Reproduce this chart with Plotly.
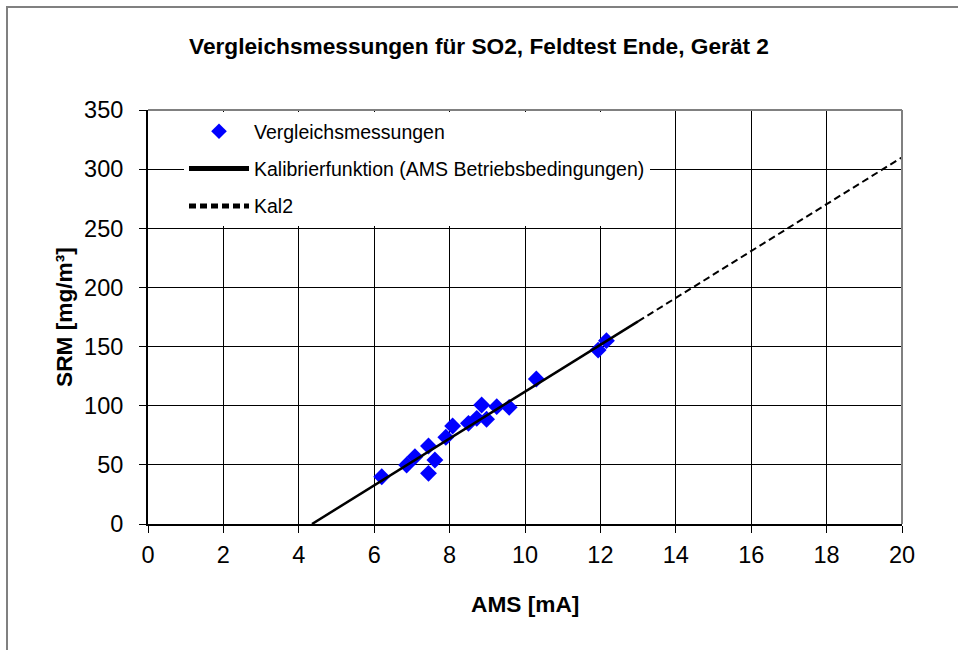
import plotly.graph_objects as go

# Data
ams_ma = [6.20, 6.86, 7.08, 7.44, 7.44, 7.61, 7.90, 8.08, 8.50, 8.72, 8.85, 8.98, 9.25, 9.58, 10.30, 11.94, 12.16]
srm_mg = [40.0, 49.9, 56.9, 65.9, 42.8, 54.1, 73.3, 82.8, 85.1, 89.3, 100.6, 88.5, 99.2, 98.6, 122.6, 147.0, 155.0]

kal_x = [4.35, 13.0]
kal_y = [0.0, 171.3]
kal2_x = [13.0, 20.0]
kal2_y = [171.3, 310.0]

x_ticks = [0, 2, 4, 6, 8, 10, 12, 14, 16, 18, 20]
y_ticks = [0, 50, 100, 150, 200, 250, 300, 350]

FONT = "Liberation Sans, Arial, sans-serif"
W, H = 958, 650
L, R, T, B = 148, 56, 110, 126
PW, PH = W - L - R, H - T - B

fig = go.Figure()
fig.add_trace(go.Scatter(
    x=ams_ma, y=srm_mg, mode="markers", name="Vergleichsmessungen",
    marker=dict(symbol="diamond", color="#0000FF", size=13, line=dict(width=0)),
    legendgroup="a",
))
fig.add_trace(go.Scatter(
    x=kal_x, y=kal_y, mode="lines", name="Kalibrierfunktion (AMS Betriebsbedingungen)",
    line=dict(color="black", width=2.5), legendgroup="b",
))
fig.add_trace(go.Scatter(
    x=kal2_x, y=kal2_y, mode="lines", name="Kal2",
    line=dict(color="black", width=2, dash="7px,4px"), legendgroup="c",
))

fig.update_layout(
    width=W, height=H,
    paper_bgcolor="white", plot_bgcolor="white",
    margin=dict(l=L, r=R, t=T, b=B, autoexpand=False),
    font=dict(family=FONT, color="black", size=18),
    title=dict(text="<b>Vergleichsmessungen für SO2, Feldtest Ende, Gerät 2</b>",
               x=0.5, xanchor="center", y=1 - 46 / H, yanchor="middle",
               font=dict(family=FONT, size=22.7, color="black")),
    showlegend=True,
    legend=dict(x=(184 - L) / PW, y=1 - 2 / PH, xanchor="left", yanchor="top",
                bgcolor="white", borderwidth=0, tracegroupgap=9, itemwidth=60,
                font=dict(family=FONT, size=19.5, color="black"),
                itemsizing="constant"),
    xaxis=dict(range=[0, 20], tickvals=x_ticks, ticktext=[str(v) for v in x_ticks],
               showgrid=True, gridcolor="black", gridwidth=1,
               showline=True, linecolor="black", linewidth=2,
               ticks="outside", ticklen=7, tickcolor="black", ticklabelstandoff=2,
               tickfont=dict(family=FONT, size=23.5), zeroline=False),
    yaxis=dict(range=[0, 350], tickvals=y_ticks, ticktext=[str(v) for v in y_ticks],
               showgrid=True, gridcolor="black", gridwidth=1,
               showline=True, linecolor="black", linewidth=2,
               ticks="outside", ticklen=7, tickcolor="black", ticklabelstandoff=11,
               tickfont=dict(family=FONT, size=23.5), zeroline=False),
    annotations=[
        dict(text="<b>AMS [mA]</b>", xref="paper", yref="paper",
             x=0.5, y=-(604 - (T + PH)) / PH, xanchor="center", yanchor="middle",
             showarrow=False, font=dict(family=FONT, size=22.7)),
        dict(text="<b>SRM [mg/m³]</b>", xref="paper", yref="paper",
             x=(64 - L) / PW, y=0.5, xanchor="center", yanchor="middle",
             textangle=-90, showarrow=False, font=dict(family=FONT, size=22.7)),
    ],
    shapes=[
        dict(type="line", xref="paper", yref="paper", x0=0, x1=1, y0=1, y1=1,
             line=dict(color="#808080", width=2), layer="above"),
        dict(type="line", xref="paper", yref="paper", x0=1, x1=1, y0=0, y1=1,
             line=dict(color="#808080", width=2), layer="above"),
        dict(type="rect", xref="paper", yref="paper",
             x0=(7 - L) / PW, x1=1.2, y0=-0.5, y1=1 + (T - 7) / PH,
             line=dict(color="#808080", width=2), layer="below"),
    ],
)

fig.write_html("out.html", config={"displayModeBar": False},
               post_script="document.body.style.margin='0px';")
